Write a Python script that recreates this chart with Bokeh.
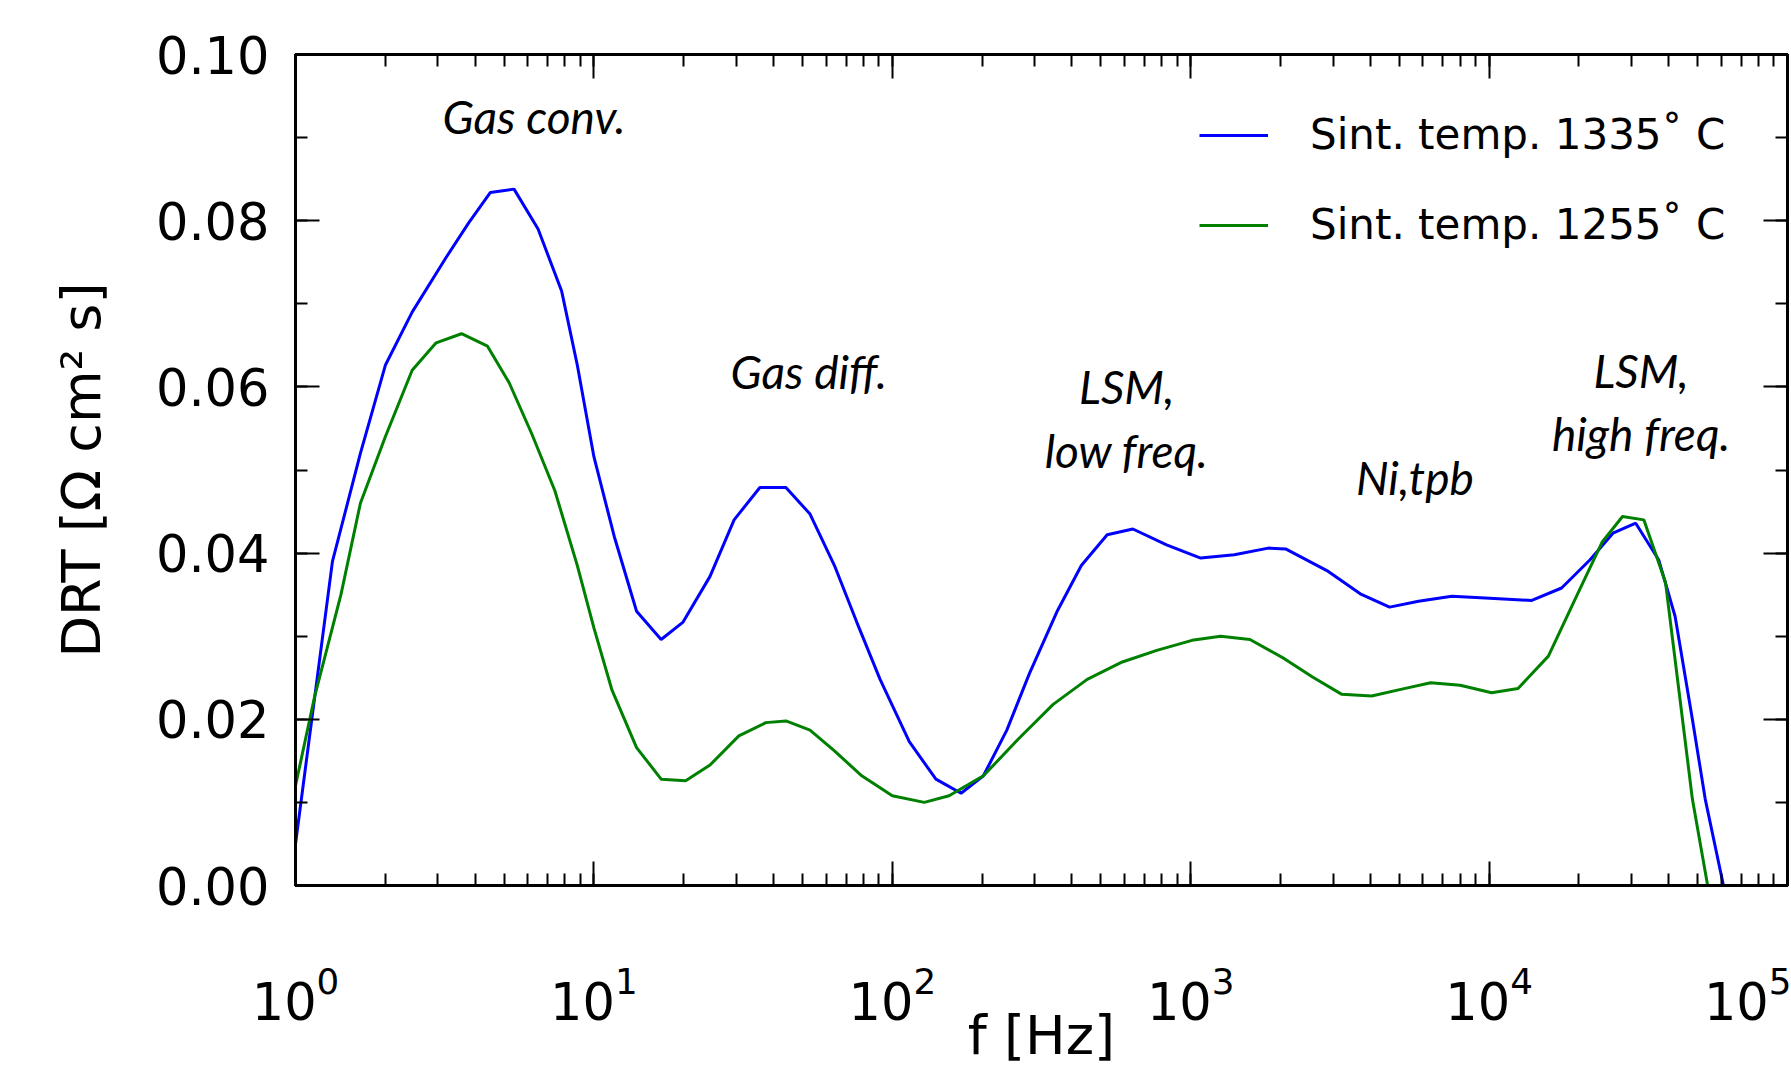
from bokeh.plotting import figure
from bokeh.models import (Range1d, LogAxis, LinearAxis, LogTicker, SingleIntervalTicker,
                          PrintfTickFormatter, CustomJSTickFormatter, Legend, LegendItem)
from bokeh.core.properties import value
from bokeh.embed import file_html
from bokeh.resources import INLINE

# ---- data ----
f_1335 = [1.0, 1.33, 1.65, 2.0, 2.46, 3.2, 3.8, 4.5, 5.4, 6.5, 7.8, 8.8, 10.0, 11.7, 13.9,
          16.8, 19.9, 24.5, 29.5, 36, 44, 53, 64, 76, 91, 114, 140, 170, 202, 242, 288,
          358, 430, 525, 640, 830, 1080, 1400, 1820, 2080, 2860, 3700, 4640, 5800, 7500,
          9700, 13900, 17500, 21800, 26000, 31000, 37000, 42000, 48000, 53000, 61000]
drt_1335 = [0.005, 0.039, 0.052, 0.0626, 0.069, 0.0756, 0.0797, 0.0834, 0.0838, 0.079,
            0.0715, 0.0626, 0.0516, 0.042, 0.033, 0.0296, 0.0317, 0.0372, 0.044, 0.0479,
            0.0479, 0.0447, 0.0385, 0.0317, 0.0248, 0.0173, 0.0128, 0.0111, 0.0132, 0.0187,
            0.0255, 0.0331, 0.0385, 0.0422, 0.0429, 0.041, 0.0394, 0.0398, 0.0406, 0.0405,
            0.0379, 0.0351, 0.0335, 0.0342, 0.0348, 0.0346, 0.0343, 0.0358, 0.0392, 0.0424,
            0.0436, 0.0392, 0.0324, 0.020, 0.0104, 0.0]

f_1255 = [1.0, 1.16, 1.42, 1.65, 2.0, 2.46, 2.96, 3.6, 4.4, 5.2, 6.2, 7.4, 8.8, 10.0, 11.5,
          13.9, 16.8, 20.3, 24.5, 30.6, 37.7, 44, 53, 64, 79, 100, 128, 155, 202, 264, 346,
          450, 590, 770, 1010, 1260, 1580, 2060, 2560, 3210, 4040, 5060, 6370, 8000, 10200,
          12500, 15800, 19800, 23900, 28000, 33000, 39000, 48000, 54000]
drt_1255 = [0.012, 0.0228, 0.035, 0.046, 0.054, 0.062, 0.0653, 0.0664, 0.0649, 0.0605,
            0.0543, 0.0475, 0.0385, 0.031, 0.0235, 0.0166, 0.0128, 0.0126, 0.0145, 0.018,
            0.0196, 0.0198, 0.0187, 0.0162, 0.0132, 0.0108, 0.010, 0.0108, 0.0132, 0.0176,
            0.0218, 0.0248, 0.0269, 0.0283, 0.0295, 0.030, 0.0296, 0.0273, 0.0251, 0.023,
            0.0228, 0.0236, 0.0244, 0.0241, 0.0232, 0.0237, 0.0276, 0.0351, 0.0413, 0.0444,
            0.044, 0.0365, 0.0104, 0.0]

series_labels = ["Sint. temp. 1335\u02da C", "Sint. temp. 1255\u02da C"]

ann_text = ["Gas conv.", "Gas diff.", "LSM,\nlow freq.", "Ni,tpb", "LSM,\nhigh freq."]
ann_f = [6.3, 52.5, 610, 5640, 32300]
ann_y = [0.0925, 0.0619, 0.0562, 0.0491, 0.0582]

# ---- figure ----
FONT = "DejaVu Sans"
p = figure(width=1791, height=1069, x_axis_type="log",
           x_range=Range1d(1, 1e5), y_range=Range1d(0, 0.1),
           output_backend="svg", toolbar_location=None,
           min_border_left=295, min_border_top=54, min_border_right=4, min_border_bottom=183)
p.xgrid.visible = False
p.ygrid.visible = False
p.outline_line_color = "black"
p.outline_line_width = 3
p.outline_line_alpha = 1.0

r1 = p.line(f_1335, drt_1335, line_color="#0000ff", line_width=3)
r2 = p.line(f_1255, drt_1255, line_color="#008000", line_width=3)

p.text(x=ann_f, y=ann_y, text=ann_text, text_font=value("Lato"), text_font_style="italic",
       text_font_size="46px", text_align="center", text_baseline="middle",
       text_color="black", text_line_height=1.15)

def style_axis(ax, labels=True):
    ax.axis_line_color = "black"
    ax.axis_line_width = 3
    ax.major_tick_in = 24
    ax.major_tick_out = 0
    ax.minor_tick_in = 12
    ax.minor_tick_out = 0
    ax.major_tick_line_width = 2
    ax.minor_tick_line_width = 2
    ax.major_tick_line_color = "black"
    ax.minor_tick_line_color = "black"
    if labels:
        ax.major_label_text_font = FONT
        ax.major_label_text_font_size = "51px"
        ax.major_label_text_color = "black"
        ax.axis_label_text_font = FONT
        ax.axis_label_text_font_size = "54px"
        ax.axis_label_text_font_style = "normal"
        ax.axis_label_text_color = "black"
    else:
        ax.formatter = CustomJSTickFormatter(code="return '';")
        ax.major_label_text_font_size = "1px"
        ax.major_label_standoff = 0

xa = p.xaxis[0]
xa.ticker = LogTicker(num_minor_ticks=10)
style_axis(xa)
xa.major_label_standoff = 80
xa.axis_label = "f [Hz]"
xa.axis_label_standoff = -19

ya = p.yaxis[0]
ya.ticker = SingleIntervalTicker(interval=0.02, num_minor_ticks=2)
ya.formatter = PrintfTickFormatter(format="%.2f")
style_axis(ya)
ya.major_label_standoff = 26
ya.axis_label = "DRT [\u03a9 cm\u00b2 s]"
ya.axis_label_standoff = 40

top = LogAxis(ticker=LogTicker(num_minor_ticks=10))
style_axis(top, labels=False)
p.add_layout(top, "above")

right = LinearAxis(ticker=SingleIntervalTicker(interval=0.02, num_minor_ticks=2))
style_axis(right, labels=False)
p.add_layout(right, "right")

legend = Legend(items=[LegendItem(label=series_labels[0], renderers=[r1]),
                       LegendItem(label=series_labels[1], renderers=[r2])],
                location=(904, 636))
legend.label_text_font = FONT
legend.label_text_font_size = "42px"
legend.label_text_color = "black"
legend.glyph_width = 69
legend.glyph_height = 48
legend.label_height = 48
legend.label_standoff = 42
legend.spacing = 41
legend.padding = 0
legend.margin = 0
legend.border_line_color = None
legend.background_fill_alpha = 0
p.add_layout(legend)

open("out.html", "w").write(file_html(p, INLINE))
